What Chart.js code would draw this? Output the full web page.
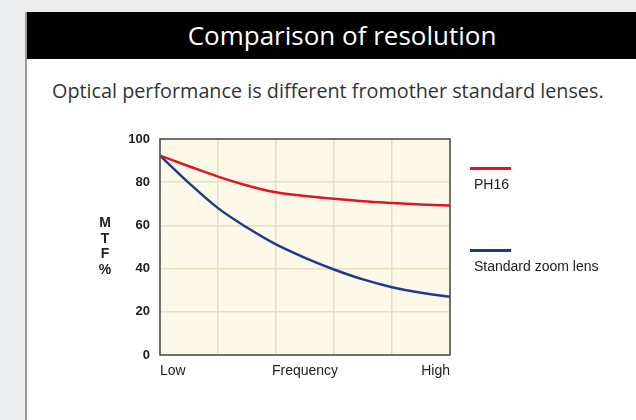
<!DOCTYPE html>
<html>
<head>
<meta charset="utf-8">
<script src="https://cdn.jsdelivr.net/npm/chart.js"></script>
<style>
  html, body { margin: 0; padding: 0; }
  body { width: 636px; height: 420px; background: #ebecee; position: relative; overflow: hidden; font-family: 'Liberation Sans', Arial, sans-serif; }
  .card { position: absolute; left: 25px; top: 12px; width: 640px; height: 420px; background: #fff; border-left: 2px solid #9a9a9a; }
  .card-head { height: 47px; background: #000; color: #fff; font-family: 'Open Sans', sans-serif; font-size: 26px; line-height: 47px; text-align: center; padding-right: 10px; }
  .card-sub { position: absolute; left: 25px; top: 65px; font-family: 'Open Sans', sans-serif; font-size: 19.8px; color: #333; white-space: nowrap; }
  #wrap { position: absolute; left: 0; top: 0; width: 636px; height: 420px; }
  .mtf { position: absolute; left: 96px; top: 215px; width: 18px; text-align: center; font-weight: bold; font-size: 14px; line-height: 15.5px; color: #222; }
  .legend-item { position: absolute; left: 470px; font-size: 14px; color: #222; }
  .legend-item .swatch { width: 41px; height: 2.5px; margin-bottom: 6px; }
  .legend-item span { padding-left: 4px; }
</style>
</head>
<body>
<div class="card">
  <div class="card-head">Comparison of resolution</div>
  <div class="card-sub">Optical performance is different fromother standard lenses.</div>
</div>
<div id="wrap"><canvas id="mtfChart"></canvas></div>
<div class="mtf">M<br>T<br>F<br>%</div>
<div id="legend"></div>
<script>
// Frequency positions (0 = Low, 5 = High) and MTF values in %
const frequency = [0, 0.5, 1, 1.5, 2, 2.5, 3, 3.5, 4, 4.5, 5];
const ph16 = [92.3, 87.4, 82.6, 78.5, 75.3, 73.6, 72.3, 71.2, 70.4, 69.7, 69.2];
const standardZoom = [92.3, 79.6, 68, 59, 51.2, 45, 39.6, 35, 31.4, 28.8, 27];
const seriesNames = ['PH16', 'Standard zoom lens'];
const xTickValues = [0, 2.5, 5];
const xTickLabels = ['Low', 'Frequency', 'High'];
const yTicks = [0, 20, 40, 60, 80, 100];

const RED = '#e2141f';
const BLUE = '#1d3a8c';
const GRID = '#e3dfbf';

// Cream background and dark frame around the plot
const plotFrame = {
  id: 'plotFrame',
  beforeDraw(chart) {
    const a = chart.chartArea, ctx = chart.ctx;
    ctx.save();
    ctx.fillStyle = '#fcf9e9';
    ctx.fillRect(a.left, a.top, a.right - a.left, a.bottom - a.top);
    ctx.restore();
  },
  afterDatasetsDraw(chart) {
    const a = chart.chartArea, ctx = chart.ctx;
    ctx.save();
    ctx.strokeStyle = '#4a4a4a';
    ctx.lineWidth = 1.5;
    ctx.strokeRect(a.left, a.top, a.right - a.left, a.bottom - a.top);
    ctx.restore();
  }
};

const toPoints = vals => vals.map((v, i) => ({ x: frequency[i], y: v }));

const chart = new Chart(document.getElementById('mtfChart'), {
  type: 'line',
  data: {
    datasets: [
      { label: seriesNames[0], data: toPoints(ph16), borderColor: RED, borderWidth: 2.5, pointRadius: 0, cubicInterpolationMode: 'monotone', fill: false },
      { label: seriesNames[1], data: toPoints(standardZoom), borderColor: BLUE, borderWidth: 2.5, pointRadius: 0, cubicInterpolationMode: 'monotone', fill: false }
    ]
  },
  options: {
    responsive: true,
    maintainAspectRatio: false,
    animation: false,
    layout: { padding: { left: 0, right: 186, top: 139, bottom: 0 } },
    plugins: { legend: { display: false }, tooltip: { enabled: false } },
    scales: {
      x: {
        type: 'linear',
        min: 0,
        max: 5,
        afterBuildTicks: function(scale) {
          const vals = [0, 1, 2, 3, 4, 5].concat(xTickValues).filter((v, i, arr) => arr.indexOf(v) === i).sort((a, b) => a - b);
          scale.ticks = vals.map(v => ({ value: v }));
        },
        afterFit: function(scale) { scale.height = 65; },
        grid: {
          color: ctx => (ctx.tick && xTickValues.indexOf(ctx.tick.value) > 0 && xTickValues.indexOf(ctx.tick.value) < xTickValues.length - 1) ? 'transparent' : GRID,
          lineWidth: 1.5,
          drawTicks: false
        },
        border: { display: false },
        ticks: {
          align: 'inner',
          padding: 8,
          maxRotation: 0,
          autoSkip: false,
          color: '#222',
          font: { family: 'Liberation Sans', size: 14 },
          callback: function(value) {
            const i = xTickValues.indexOf(value);
            return i >= 0 ? xTickLabels[i] : '';
          }
        }
      },
      y: {
        min: 0,
        max: 100,
        afterBuildTicks: function(scale) { scale.ticks = yTicks.map(v => ({ value: v })); },
        afterFit: function(scale) { scale.width = 160; },
        grid: { color: GRID, lineWidth: 1.5, drawTicks: false },
        border: { display: false },
        ticks: {
          padding: 10,
          color: '#222',
          font: { family: 'Liberation Sans', size: 13, weight: 'bold' }
        }
      }
    }
  },
  plugins: [plotFrame]
});

// Legend: short coloured line with the series name under it
const legendTops = [167, 249];
const legend = document.getElementById('legend');
chart.data.datasets.forEach(function(ds, i) {
  const item = document.createElement('div');
  item.className = 'legend-item';
  item.style.top = legendTops[i] + 'px';
  item.innerHTML = '<div class="swatch" style="background:' + ds.borderColor + '"></div><span>' + ds.label + '</span>';
  legend.appendChild(item);
});
</script>
</body>
</html>
